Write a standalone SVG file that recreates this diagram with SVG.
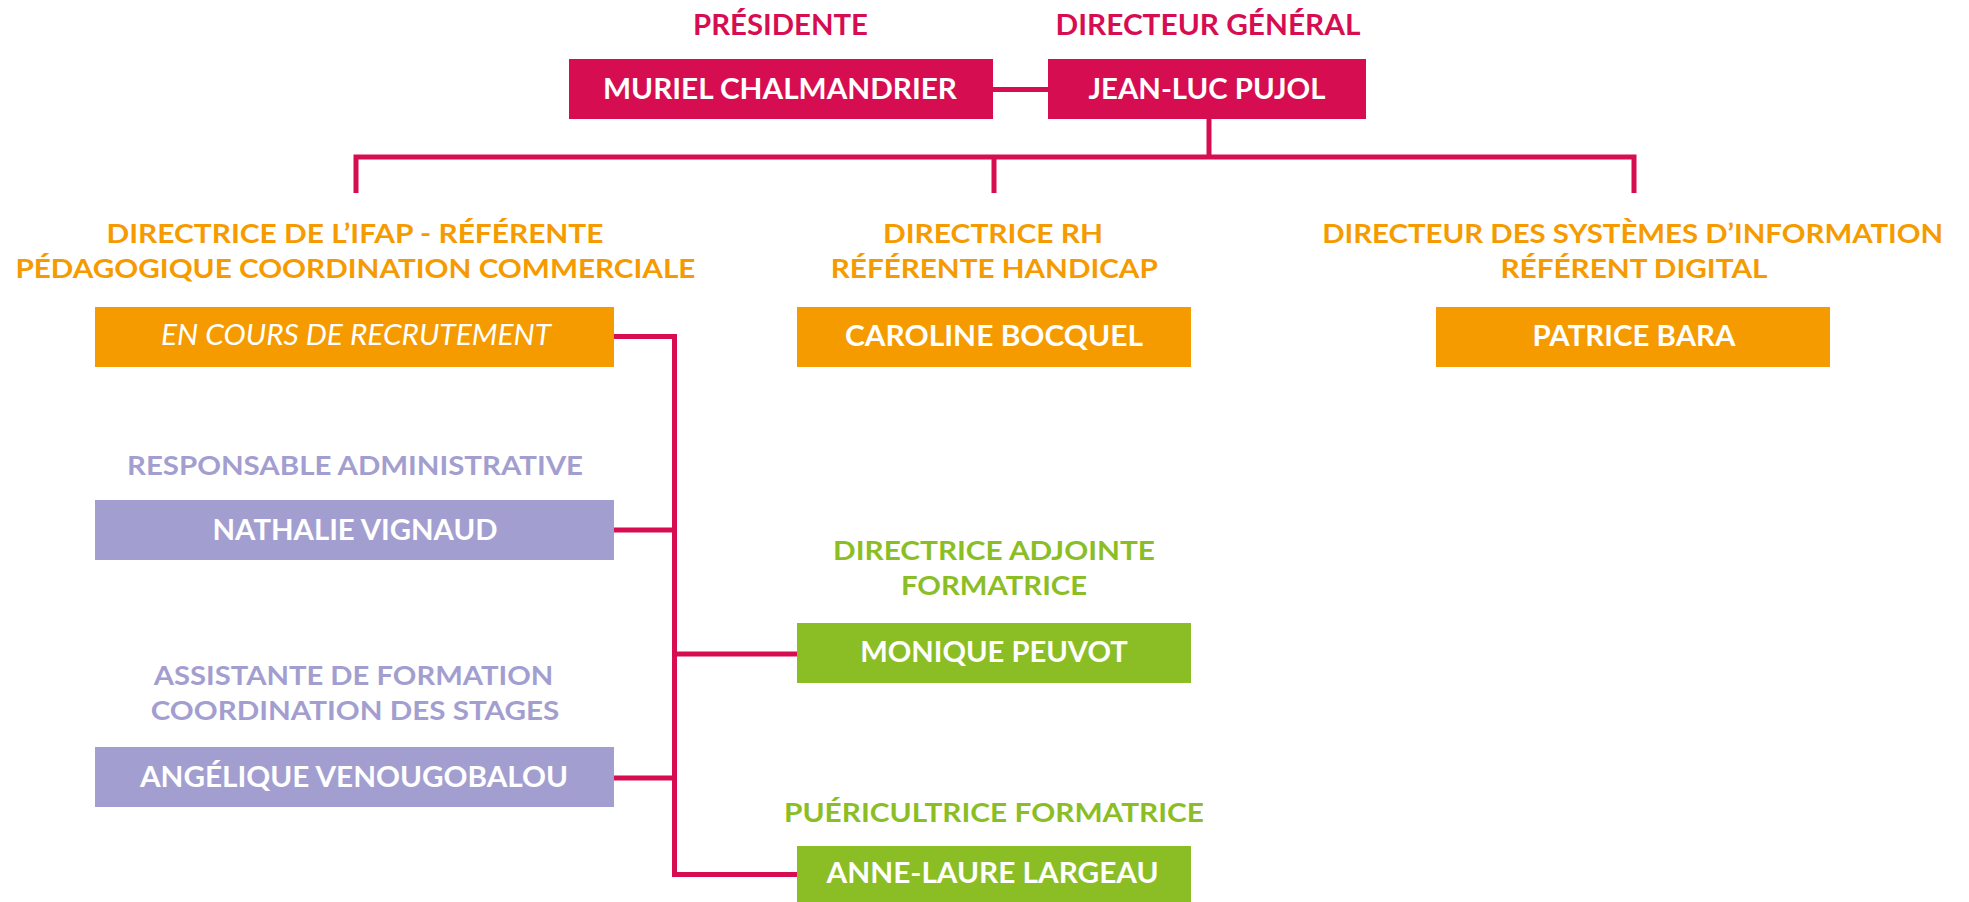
<svg xmlns="http://www.w3.org/2000/svg" width="1969" height="902" viewBox="0 0 1969 902">
<style>
text{font-family:Lato,"Open Sans","Liberation Sans",sans-serif;font-weight:700;text-anchor:middle}
.lab{font-size:26px}
.top{font-size:28px}
.nm{font-size:28.5px;fill:#FFFFFF}
.it{font-style:italic;font-weight:400}
.m{fill:#D70D52}
.o{fill:#F59B00}
.v{fill:#A39ED0}
.g{fill:#8BBE25}
.cn{fill:none;stroke:#D70D52;stroke-width:5;stroke-linecap:butt;stroke-linejoin:miter}
</style>
<rect width="1969" height="902" fill="#FFFFFF"/>
<g id="connectors">
<path class="cn" d="M993 89.5H1048"/>
<path class="cn" d="M1209 119V157"/>
<path class="cn" d="M356 193V157H1634V193"/>
<path class="cn" d="M994 157V193"/>
<path class="cn" d="M614 336.5H674.5V874.5H797"/>
<path class="cn" d="M614 530H674.5"/>
<path class="cn" d="M674.5 654H797"/>
<path class="cn" d="M614 778H674.5"/>
</g>
<g id="presidente">
<text class="top m" x="780.5" y="35" textLength="175" lengthAdjust="spacingAndGlyphs">PRÉSIDENTE</text>
<rect class="m" x="569" y="59" width="424" height="60"/>
<text class="nm" x="780" y="99" textLength="354" lengthAdjust="spacingAndGlyphs">MURIEL CHALMANDRIER</text>
</g>
<g id="directeur-general">
<text class="top m" x="1208" y="35" textLength="305" lengthAdjust="spacingAndGlyphs">DIRECTEUR GÉNÉRAL</text>
<rect class="m" x="1048" y="59" width="318" height="60"/>
<text class="nm" x="1207" y="99" textLength="237" lengthAdjust="spacingAndGlyphs">JEAN-LUC PUJOL</text>
</g>
<g id="directrice-ifap">
<text class="lab o" x="355" y="243" textLength="497" lengthAdjust="spacingAndGlyphs">DIRECTRICE DE L’IFAP - RÉFÉRENTE</text>
<text class="lab o" x="355.4" y="278" textLength="680" lengthAdjust="spacingAndGlyphs">PÉDAGOGIQUE COORDINATION COMMERCIALE</text>
<rect class="o" x="95" y="307" width="519" height="60"/>
<text class="nm it" x="356" y="345" textLength="390" lengthAdjust="spacingAndGlyphs">EN COURS DE RECRUTEMENT</text>
</g>
<g id="directrice-rh">
<text class="lab o" x="993" y="243" textLength="220" lengthAdjust="spacingAndGlyphs">DIRECTRICE RH</text>
<text class="lab o" x="994.3" y="278" textLength="327" lengthAdjust="spacingAndGlyphs">RÉFÉRENTE HANDICAP</text>
<rect class="o" x="797" y="307" width="394" height="60"/>
<text class="nm" x="994" y="345.7" textLength="298" lengthAdjust="spacingAndGlyphs">CAROLINE BOCQUEL</text>
</g>
<g id="directeur-si">
<text class="lab o" x="1632.7" y="243" textLength="621" lengthAdjust="spacingAndGlyphs">DIRECTEUR DES SYSTÈMES D’INFORMATION</text>
<text class="lab o" x="1634" y="278" textLength="267" lengthAdjust="spacingAndGlyphs">RÉFÉRENT DIGITAL</text>
<rect class="o" x="1436" y="307" width="394" height="60"/>
<text class="nm" x="1634" y="345.7" textLength="203" lengthAdjust="spacingAndGlyphs">PATRICE BARA</text>
</g>
<g id="responsable-administrative">
<text class="lab v" x="355" y="475" textLength="456" lengthAdjust="spacingAndGlyphs">RESPONSABLE ADMINISTRATIVE</text>
<rect class="v" x="95" y="500" width="519" height="60"/>
<text class="nm" x="355" y="540" textLength="285" lengthAdjust="spacingAndGlyphs">NATHALIE VIGNAUD</text>
</g>
<g id="assistante-formation">
<text class="lab v" x="353.5" y="685" textLength="399.5" lengthAdjust="spacingAndGlyphs">ASSISTANTE DE FORMATION</text>
<text class="lab v" x="355" y="720" textLength="408.6" lengthAdjust="spacingAndGlyphs">COORDINATION DES STAGES</text>
<rect class="v" x="95" y="747" width="519" height="60"/>
<text class="nm" x="354" y="786.7" textLength="428" lengthAdjust="spacingAndGlyphs">ANGÉLIQUE VENOUGOBALOU</text>
</g>
<g id="directrice-adjointe">
<text class="lab g" x="994" y="560" textLength="322" lengthAdjust="spacingAndGlyphs">DIRECTRICE ADJOINTE</text>
<text class="lab g" x="994" y="595" textLength="186" lengthAdjust="spacingAndGlyphs">FORMATRICE</text>
<rect class="g" x="797" y="623" width="394" height="60"/>
<text class="nm" x="994" y="661.7" textLength="267.5" lengthAdjust="spacingAndGlyphs">MONIQUE PEUVOT</text>
</g>
<g id="puericultrice-formatrice">
<text class="lab g" x="994" y="821.7" textLength="420" lengthAdjust="spacingAndGlyphs">PUÉRICULTRICE FORMATRICE</text>
<rect class="g" x="797" y="846" width="394" height="60"/>
<text class="nm" x="992.6" y="883" textLength="332" lengthAdjust="spacingAndGlyphs">ANNE-LAURE LARGEAU</text>
</g>
</svg>
